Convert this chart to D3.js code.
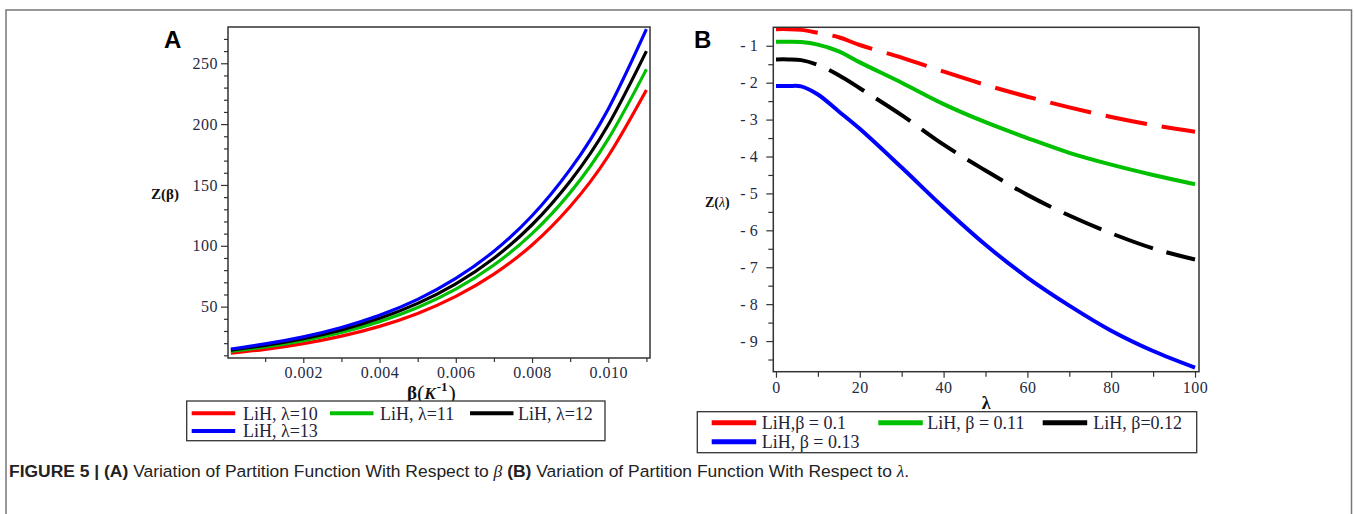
<!DOCTYPE html>
<html><head><meta charset="utf-8">
<script src="https://cdn.jsdelivr.net/npm/d3@7"></script>
<style>body{margin:0;background:#fff}svg{display:block}</style>
</head><body>
<svg id="c" width="1354" height="514"></svg>
<script>
// ---------- DATA ----------
// Panel A: Z(beta) for several lambda
const betaValues = [0.0001,0.001,0.002,0.003,0.004,0.005,0.006,0.007,0.008,0.009,0.010,0.011];
const zLambda10 = [11.7,14.9,19.6,25.8,33.8,44.4,58.4,76.7,100.7,132.3,173.8,228];
const zLambda11 = [13.3,16.9,22.1,28.9,37.7,49.3,64.4,84.2,110.0,143.7,187.8,245];
const zLambda12 = [14.3,18.2,23.7,30.9,40.4,52.7,68.8,89.8,117.3,153.1,199.5,260];
const zLambda13 = [15.2,19.4,25.2,32.9,42.9,56.0,73.2,95.5,124.7,162.8,212.5,278];
const legendA = ["LiH, λ=10","LiH, λ=11","LiH, λ=12","LiH, λ=13"];
const ticksAx = [0.002,0.004,0.006,0.008,0.010];
const minorAx = [0.001,0.003,0.005,0.007,0.009,0.011];
const ticksAy = [50,100,150,200,250];
const minorAy = [10,20,30,40,60,70,80,90,110,120,130,140,160,170,180,190,210,220,230,240,260,270];

// Panel B: Z(lambda) for several beta
const lambdaValues = [0,3,6,10,15,20,30,40,50,60,70,80,90,100];
const zBeta010 = [-0.55,-0.55,-0.57,-0.65,-0.77,-0.98,-1.32,-1.70,-2.06,-2.38,-2.67,-2.93,-3.15,-3.33];
const zBeta011 = [-0.89,-0.89,-0.90,-0.97,-1.15,-1.45,-2.00,-2.58,-3.07,-3.50,-3.90,-4.22,-4.50,-4.75];
const zBeta012 = [-1.37,-1.37,-1.39,-1.52,-1.80,-2.15,-2.88,-3.68,-4.38,-5.04,-5.60,-6.08,-6.49,-6.79];
const zBeta013 = [-2.09,-2.09,-2.10,-2.32,-2.78,-3.25,-4.30,-5.38,-6.39,-7.28,-8.04,-8.72,-9.27,-9.72];
const legendB = ["LiH,β = 0.1","LiH, β = 0.11","LiH, β=0.12","LiH, β = 0.13"];
const ticksBx = [0,20,40,60,80,100];
const minorBx = [10,30,50,70,90];
const ticksBy = [-1,-2,-3,-4,-5,-6,-7,-8,-9];
const minorBy = [-1.5,-2.5,-3.5,-4.5,-5.5,-6.5,-7.5,-8.5,-9.5];

const colors = ["#ff0000","#00c000","#000000","#0000ff"];

// ---------- DRAW ----------
const svg = d3.select("#c");
const serif = "'Liberation Serif','Times New Roman',serif";
const sans = "'Liberation Sans',Arial,sans-serif";
const tickColor = "#1f2a44";

// outer frame
svg.append("rect").attr("x",6).attr("y",10).attr("width",1345.5).attr("height",530)
  .attr("fill","none").attr("stroke","#777").attr("stroke-width",1.5);

function styleAxis(g){
  g.select(".domain").remove();
  g.selectAll(".tick line").attr("stroke","#333").attr("stroke-width",1.2);
  g.selectAll(".tick text").attr("font-family",serif).attr("font-size",16)
    .attr("letter-spacing",0.5).attr("fill",tickColor);
}

// ----- Panel A -----
const A = {l:228,r:650,t:27,b:358};
const xA = d3.scaleLinear().domain([0.000025,0.011094]).range([A.l,A.r]);
const yA = d3.scaleLinear().domain([7.8,279.8]).range([A.b,A.t]);

svg.append("clipPath").attr("id","clipA").append("rect")
  .attr("x",A.l).attr("y",A.t).attr("width",A.r-A.l).attr("height",A.b-A.t);

svg.append("g").attr("transform",`translate(0,${A.b})`)
  .call(d3.axisBottom(xA).tickValues(ticksAx).tickFormat(d3.format(".3f")).tickSize(5).tickPadding(4))
  .call(styleAxis);
svg.append("g").attr("transform",`translate(0,${A.b})`)
  .call(d3.axisBottom(xA).tickValues(minorAx).tickFormat("").tickSize(4))
  .call(styleAxis);
svg.append("g").attr("transform",`translate(${A.l},0)`)
  .call(d3.axisLeft(yA).tickValues(ticksAy).tickFormat(d3.format("d")).tickSize(7).tickPadding(3))
  .call(styleAxis);
svg.append("g").attr("transform",`translate(${A.l},0)`)
  .call(d3.axisLeft(yA).tickValues(minorAy).tickFormat("").tickSize(4))
  .call(styleAxis);

const seriesA = [zLambda10,zLambda11,zLambda12,zLambda13];
const lineA = d3.line().x(d=>xA(d[0])).y(d=>yA(d[1])).curve(d3.curveNatural);
svg.append("g").attr("clip-path","url(#clipA)").selectAll("path")
  .data(seriesA).join("path")
  .attr("d",s=>lineA(betaValues.map((b,i)=>[b,s[i]])))
  .attr("fill","none").attr("stroke",(d,i)=>colors[i]).attr("stroke-width",3.2)
  .attr("stroke-linejoin","round");

svg.append("rect").attr("x",A.l).attr("y",A.t).attr("width",A.r-A.l).attr("height",A.b-A.t)
  .attr("fill","none").attr("stroke","#333").attr("stroke-width",1.5);

// panel label
svg.append("text").attr("x",164).attr("y",48).text("A")
  .attr("font-family",sans).attr("font-weight","bold").attr("font-size",24).attr("fill","#000");
// y label
svg.append("text").attr("x",151).attr("y",199).text("Z(β)")
  .attr("font-family",serif).attr("font-weight","bold").attr("font-size",15).attr("fill","#111");
// x label
const xl = svg.append("text").attr("x",407).attr("y",399).attr("font-family",serif).attr("fill","#111");
xl.append("tspan").attr("font-weight","bold").attr("font-size",19).text("β");
xl.append("tspan").attr("font-size",22).attr("dy",1).text("(");
xl.append("tspan").attr("font-weight","bold").attr("font-style","italic").attr("font-size",17).attr("dy",-1).text("K");
xl.append("tspan").attr("font-weight","bold").attr("font-size",13).attr("dy",-8).attr("dx",1).text("-1");
xl.append("tspan").attr("font-size",22).attr("dy",9).attr("dx",1).text(")");

// legend A
svg.append("rect").attr("x",186.7).attr("y",401).attr("width",418.3).attr("height",39.7)
  .attr("fill","#fff").attr("stroke","#333").attr("stroke-width",1.3);
const legAPos = [[191.7,413.3,243],[330,413.3,380],[470,413.3,518],[191.7,431,243]];
legendA.forEach((t,i)=>{
  const p = legAPos[i];
  svg.append("line").attr("x1",p[0]).attr("x2",p[0]+43.5).attr("y1",p[1]).attr("y2",p[1])
    .attr("stroke",colors[i]).attr("stroke-width",4);
  svg.append("text").attr("x",p[2]).attr("y",p[1]).attr("dy","0.35em").text(t)
    .attr("font-family",serif).attr("font-size",18).attr("fill","#1f2438");
});

// ----- Panel B -----
const B = {l:773.3,r:1199,t:27.3,b:371.7};
const xB = d3.scaleLinear().domain([-0.64,100.95]).range([B.l,B.r]);
const yB = d3.scaleLinear().domain([-9.83,-0.5]).range([B.b,B.t]);

svg.append("clipPath").attr("id","clipB").append("rect")
  .attr("x",B.l).attr("y",B.t).attr("width",B.r-B.l).attr("height",B.b-B.t);

svg.append("g").attr("transform",`translate(0,${B.b})`)
  .call(d3.axisBottom(xB).tickValues(ticksBx).tickFormat(d3.format("d")).tickSize(6).tickPadding(4))
  .call(styleAxis);
svg.append("g").attr("transform",`translate(0,${B.b})`)
  .call(d3.axisBottom(xB).tickValues(minorBx).tickFormat("").tickSize(5))
  .call(styleAxis);
svg.append("g").attr("transform",`translate(${B.l},0)`)
  .call(d3.axisLeft(yB).tickValues(ticksBy).tickFormat(d=>"-\u2009"+Math.abs(d)).tickSize(7).tickPadding(8))
  .call(styleAxis);
svg.append("g").attr("transform",`translate(${B.l},0)`)
  .call(d3.axisLeft(yB).tickValues(minorBy).tickFormat("").tickSize(5))
  .call(styleAxis);

const seriesB = [zBeta010,zBeta011,zBeta012,zBeta013];
const dashB = ["42,15",null,"41,14",null];
const lineB = d3.line().x(d=>xB(d[0])).y(d=>yB(d[1])).curve(d3.curveCatmullRom.alpha(0.5));
svg.append("g").attr("clip-path","url(#clipB)").selectAll("path")
  .data(seriesB).join("path")
  .attr("d",s=>lineB(lambdaValues.map((l,i)=>[l,s[i]])))
  .attr("fill","none").attr("stroke",(d,i)=>colors[i]).attr("stroke-width",4)
  .attr("stroke-dasharray",(d,i)=>dashB[i]);

svg.append("rect").attr("x",B.l).attr("y",B.t).attr("width",B.r-B.l).attr("height",B.b-B.t)
  .attr("fill","none").attr("stroke","#333").attr("stroke-width",1.5);

svg.append("text").attr("x",694).attr("y",48).text("B")
  .attr("font-family",sans).attr("font-weight","bold").attr("font-size",24).attr("fill","#000");
const yl = svg.append("text").attr("x",705).attr("y",207).attr("font-family",serif).attr("font-size",14).attr("fill","#111");
yl.append("tspan").attr("font-weight","bold").text("Z(");
yl.append("tspan").attr("font-style","italic").text("λ");
yl.append("tspan").attr("font-weight","bold").text(")");
svg.append("text").attr("x",(B.l+B.r)/2).attr("y",409).attr("text-anchor","middle").text("λ")
  .attr("font-family",serif).attr("font-weight","bold").attr("font-size",18).attr("fill","#111");

// legend B
svg.append("rect").attr("x",697.3).attr("y",411.7).attr("width",499.4).attr("height",41)
  .attr("fill","#fff").attr("stroke","#333").attr("stroke-width",1.3);
const legBPos = [[711.7,422.7,761.7],[878.3,422.7,927.3],[1042.7,422.7,1093.3],[711.7,441.7,761.7]];
legendB.forEach((t,i)=>{
  const p = legBPos[i];
  svg.append("line").attr("x1",p[0]).attr("x2",p[0]+44.5).attr("y1",p[1]).attr("y2",p[1])
    .attr("stroke",colors[i]).attr("stroke-width",5);
  svg.append("text").attr("x",p[2]).attr("y",p[1]).attr("dy","0.35em").text(t)
    .attr("font-family",serif).attr("font-size",18).attr("fill","#1f2438");
});

// ----- Caption -----
const cap = svg.append("text").attr("font-family",sans).attr("font-size",17).attr("fill","#222");
cap.append("tspan").attr("font-weight","bold").text("FIGURE 5 | (A)");
cap.append("tspan").text(" Variation of Partition Function With Respect to ");
cap.append("tspan").attr("font-family",serif).attr("font-style","italic").text("β");
cap.append("tspan").attr("font-weight","bold").text(" (B)");
cap.append("tspan").text(" Variation of Partition Function With Respect to ");
cap.append("tspan").attr("font-family",serif).attr("font-style","italic").text("λ");
cap.append("tspan").text(".");
const capLen = cap.node().getComputedTextLength();
cap.attr("transform",`translate(9,477) scale(${901/capLen},1)`);
</script>
</body></html>
